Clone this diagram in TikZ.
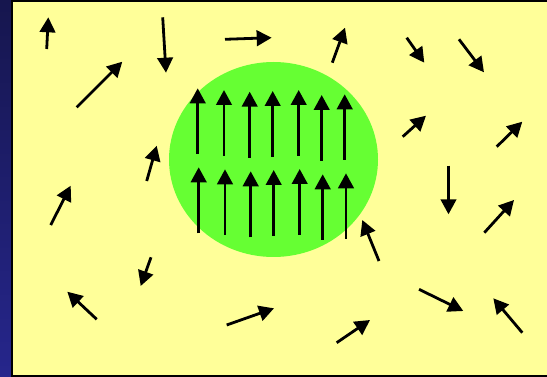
\documentclass[tikz,border=0pt]{standalone}
\usetikzlibrary{arrows.meta}
\definecolor{navytop}{HTML}{16164E}
\definecolor{navybot}{HTML}{26268C}
\definecolor{paleyellow}{HTML}{FFFF99}
\definecolor{brightgreen}{HTML}{66FF33}
\tikzset{
  vec/.style={line width=2.8pt,-{Triangle[length=15pt,width=15.5pt]}},
}
\begin{document}
\begin{tikzpicture}[x=1pt,y=-1pt]
\useasboundingbox (0,0) rectangle (547,377);
\shade[top color=navytop,bottom color=navybot] (0,0) rectangle (14,377);
\fill[paleyellow] (12,0) rectangle (560,377);
\draw[line width=2.4pt] (12,1) -- (560,1);
\draw[line width=2.4pt] (12,0) -- (12,377);
\draw[line width=2.4pt] (12,376) -- (560,376);
% domain
\fill[brightgreen] (273.5,159.5) ellipse [x radius=104.5, y radius=97.5];
% aligned moments, top row
\foreach \x/\t/\b in {197.7/88.3/154, 224/90/155.7, 249.7/91.7/157.7, 272.7/91/156.7, 298.7/90/155.7, 321.7/95/161, 344.7/94.3/160}
  \draw[vec] (\x,\b) -- (\x,\t);
% aligned moments, bottom row
\foreach \x/\t/\b in {198.7/167.3/233.3, 225/169.3/235, 250.7/171.3/237.3, 273.7/170/236, 299.7/169/235, 322.7/174.3/240, 346/173.3/239}
  \draw[vec] (\x,\b) -- (\x,\t);
% random moments
\foreach \a/\b/\c/\d in {
  46.7/49/48.3/17.3,
  76.7/107.3/122.3/61.7,
  162.7/17.3/166/72.7,
  225/39.3/271.7/37.7,
  146.7/181/156.7/145.7,
  332.3/62.7/345/27.7,
  406.7/37.7/424.3/62.7,
  459/39.3/484/72.3,
  402.7/136.7/426/115.7,
  496.7/146.7/522.3/121.7,
  448.5/165.7/448.5/214.3,
  50.7/225/70.7/185.7,
  151/257.3/140.7/286,
  96.7/319.3/67.3/291.7,
  226.7/325/274/308.3,
  379/261/362.3/220,
  484.3/232.7/514/200,
  419/289.3/463.3/311,
  522.3/332.7/493.3/298.3,
  336.7/342.7/370/320}
  \draw[vec] (\a,\b) -- (\c,\d);
\end{tikzpicture}
\end{document}
